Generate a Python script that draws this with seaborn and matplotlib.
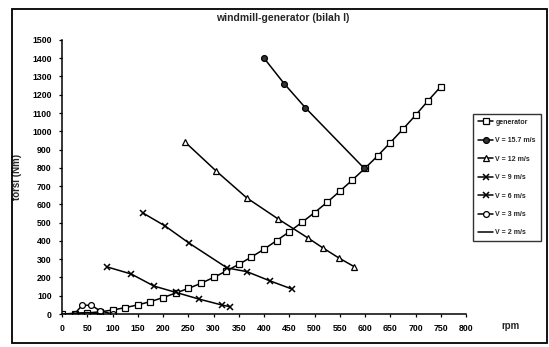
import matplotlib
matplotlib.use("Agg")
import matplotlib.pyplot as plt
import seaborn as sns
import pandas as pd
from matplotlib.patches import Rectangle

# ---- data ----
gen_rpm = [0, 25, 50, 75, 100, 125, 150, 175, 200, 225, 250, 275, 300, 325, 350, 375,
           400, 425, 450, 475, 500, 525, 550, 575, 600, 625, 650, 675, 700, 725, 750]
gen_torsi = [0, 2, 6, 12, 22, 35, 50, 68, 90, 115, 140, 168, 200, 235, 272, 312,
             355, 402, 450, 502, 555, 612, 672, 734, 798, 866, 938, 1012, 1088, 1168, 1245]

v157_rpm = [400, 440, 482, 598]
v157_torsi = [1400, 1260, 1128, 798]

v12_rpm = [244, 305, 366, 428, 487, 517, 548, 578]
v12_torsi = [940, 783, 635, 520, 416, 361, 307, 260]

v9_rpm = [160, 204, 251, 327, 366, 412, 455]
v9_torsi = [553, 482, 389, 252, 232, 181, 137]

v6_rpm = [89, 137, 182, 226, 271, 317, 333]
v6_torsi = [258, 219, 153, 118, 82, 49, 40]

v3_rpm = [25, 40, 58, 75, 100]
v3_torsi = [2, 48, 48, 18, 0]

v2_rpm = [0, 25, 50, 75]
v2_torsi = [0, 4, 8, 0]

labels = ["generator", "V = 15.7 m/s", "V = 12 m/s", "V = 9 m/s",
          "V = 6 m/s", "V = 3 m/s", "V = 2 m/s"]

x_ticks = list(range(0, 801, 50))
y_ticks = list(range(0, 1501, 100))

# ---- plot ----
sns.set_theme(style="white")
plt.rcParams['font.family'] = ['Liberation Sans', 'DejaVu Sans']

fig = plt.figure(figsize=(5.49, 3.47), dpi=100)
ax = fig.add_axes([0.113, 0.095, 0.736, 0.79])

series = [
    (gen_rpm, gen_torsi, labels[0], dict(marker='s', ms=4.2, mfc='white', mec='black', mew=0.9)),
    (v157_rpm, v157_torsi, labels[1], dict(marker='o', ms=4.2, mfc='#333333', mec='black', mew=0.9)),
    (v12_rpm, v12_torsi, labels[2], dict(marker='^', ms=5, mfc='white', mec='black', mew=0.9)),
    (v9_rpm, v9_torsi, labels[3], dict(marker='x', ms=5, mec='black', mew=1.1)),
    (v6_rpm, v6_torsi, labels[4], dict(marker='x', ms=5, mec='black', mew=1.1)),
    (v3_rpm, v3_torsi, labels[5], dict(marker='o', ms=4.2, mfc='white', mec='black', mew=0.9)),
    (v2_rpm, v2_torsi, labels[6], dict(marker='')),
]
for xs, ys, lab, kw in series:
    df = pd.DataFrame({"rpm": xs, "torsi": ys})
    sns.lineplot(data=df, x="rpm", y="torsi", ax=ax, color="black", lw=1.1,
                 label=lab, sort=False, **kw)

ax.set_xlim(0, 800)
ax.set_ylim(0, 1500)
ax.set_xticks(x_ticks)
ax.set_yticks(y_ticks)
ax.tick_params(axis='both', labelsize=6.3, length=2.5, width=0.9, direction='out',
               pad=5, colors='black')
ax.tick_params(axis='both', which='both', bottom=True, left=True)
for lab in ax.get_xticklabels() + ax.get_yticklabels():
    lab.set_fontweight('bold')
for s in ['top', 'right']:
    ax.spines[s].set_visible(False)
for s in ['left', 'bottom']:
    ax.spines[s].set_color('black')
    ax.spines[s].set_linewidth(1.1)
ax.set_xlabel("")
ax.set_ylabel("torsi (Nm)", fontsize=7, fontweight='bold')
ax.yaxis.set_label_coords(-0.098, 0.5)
fig.text(0.93, 0.06, "rpm", fontsize=7, fontweight='bold', ha='center', va='center')
fig.text(0.515, 0.948, "windmill-generator (bilah I)", fontsize=7.5, fontweight='bold',
         ha='center', va='center')

leg = ax.legend(loc='upper left', bbox_to_anchor=(0.862, 0.672),
                bbox_transform=fig.transFigure, fontsize=5, frameon=True,
                fancybox=False, edgecolor='black', borderpad=0.7,
                labelspacing=1.65, handlelength=2.2, handletextpad=0.3,
                borderaxespad=0)
leg.get_frame().set_linewidth(1.0)
for t in leg.get_texts():
    t.set_fontweight('bold')

fig.patches.append(Rectangle((12 / 549, 4 / 347), 535 / 549, 334 / 347,
                             transform=fig.transFigure, fill=False,
                             edgecolor='black', linewidth=1.3))

fig.savefig("out.png", dpi=100)
